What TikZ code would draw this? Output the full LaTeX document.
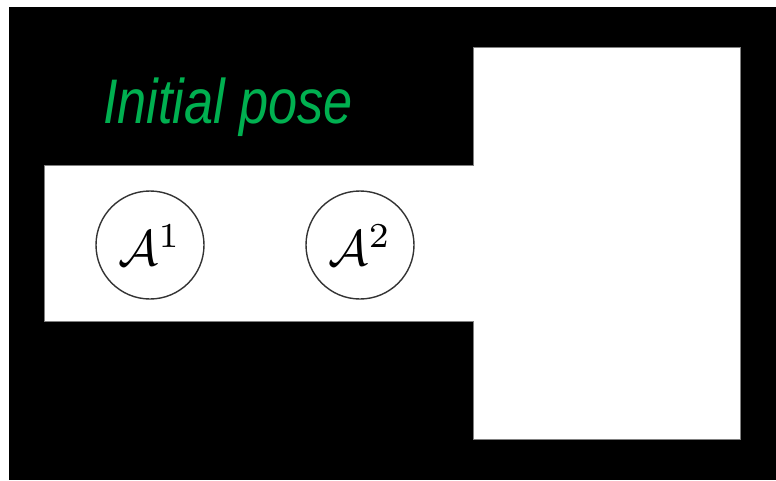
\documentclass[tikz,border=0pt]{standalone}
\usepackage{fontspec}
\setsansfont{Liberation Sans}
\usepackage{tikz}
\usetikzlibrary{positioning}
\definecolor{wall}{HTML}{000000}
\definecolor{floor}{HTML}{FFFFFF}
\definecolor{edge}{HTML}{808080}
\definecolor{ring}{HTML}{333333}
\definecolor{posegreen}{HTML}{00B050}
\tikzset{
  free/.style={fill=floor,draw=edge,line width=0.8pt},
  agent/.style={circle,draw=ring,line width=1.4pt,fill=floor,minimum size=108pt,
                inner sep=0pt},
  caption/.style={font=\sffamily\itshape\fontsize{63}{70}\selectfont,text=posegreen,
                  xscale=0.83,transform shape,inner sep=0pt}
}
\newcommand{\agentlabel}[1]{\scalebox{5}{$\mathcal{A}^{#1}$}}
\begin{document}
\begin{tikzpicture}[x=1pt,y=-1pt]
  \useasboundingbox (0,0) rectangle (776,480);
  % walls
  \fill[wall] (9,7) rectangle (776,480);
  % corridor and room
  \draw[free] (44,165) -- (473,165) -- (473,47) -- (740,47) -- (740,439)
              -- (473,439) -- (473,321) -- (44,321) -- cycle;
  \node[caption,anchor=base west] (title) at (103,123) {Initial pose};
  \node[agent] (a1) at (150,245) {\agentlabel{1}};
  \node[agent] (a2) at (360,245) {\agentlabel{2}};
\end{tikzpicture}
\end{document}
